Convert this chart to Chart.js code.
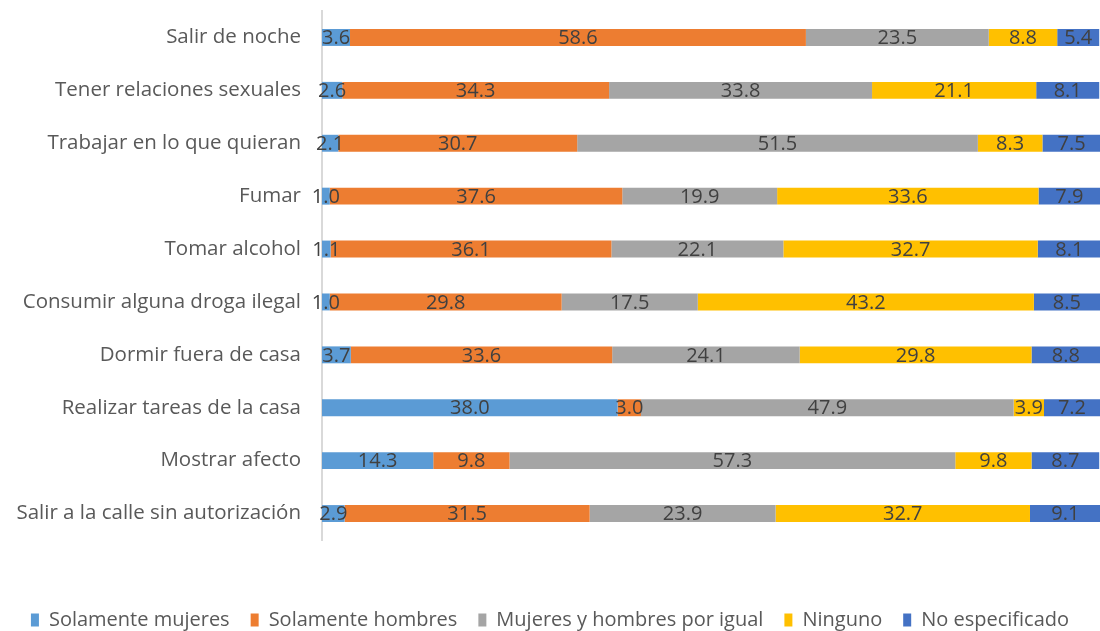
<!DOCTYPE html>
<html>
<head>
<meta charset="utf-8">
<script src="https://cdn.jsdelivr.net/npm/chart.js@4/dist/chart.umd.min.js"></script>
<style>
  html, body { margin: 0; padding: 0; background: #fff; }
  #wrap { width: 1100px; height: 631px; }
</style>
</head>
<body>
<div id="wrap"><canvas id="chart"></canvas></div>
<script>
const categories = [
  "Salir de noche",
  "Tener relaciones sexuales",
  "Trabajar en lo que quieran",
  "Fumar",
  "Tomar alcohol",
  "Consumir alguna droga ilegal",
  "Dormir fuera de casa",
  "Realizar tareas de la casa",
  "Mostrar afecto",
  "Salir a la calle sin autorización",
];
const soloMujeres = [3.6, 2.6, 2.1, 1.0, 1.1, 1.0, 3.7, 38.0, 14.3, 2.9];
const soloHombres = [58.6, 34.3, 30.7, 37.6, 36.1, 29.8, 33.6, 3.0, 9.8, 31.5];
const porIgual = [23.5, 33.8, 51.5, 19.9, 22.1, 17.5, 24.1, 47.9, 57.3, 23.9];
const ninguno = [8.8, 21.1, 8.3, 33.6, 32.7, 43.2, 29.8, 3.9, 9.8, 32.7];
const noEspecificado = [5.4, 8.1, 7.5, 7.9, 8.1, 8.5, 8.8, 7.2, 8.7, 9.1];

const seriesNames = [
  "Solamente mujeres",
  "Solamente hombres",
  "Mujeres y hombres por igual",
  "Ninguno",
  "No especificado",
];
const seriesData = [soloMujeres, soloHombres, porIgual, ninguno, noEspecificado];
const colors = ["#5B9BD5", "#ED7D31", "#A5A5A5", "#FFC000", "#4472C4"];

const fontFamily = "'Open Sans', 'Noto Sans', sans-serif";

// value labels centred in each segment
const valueLabels = {
  id: "valueLabels",
  afterDatasetsDraw(chart) {
    const ctx = chart.ctx;
    ctx.save();
    ctx.font = "20px " + fontFamily;
    ctx.fillStyle = "#404040";
    ctx.textAlign = "center";
    ctx.textBaseline = "middle";
    chart.data.datasets.forEach((ds, i) => {
      const meta = chart.getDatasetMeta(i);
      meta.data.forEach((bar, j) => {
        const v = ds.data[j];
        const x = (bar.x + bar.base) / 2;
        ctx.fillText(v.toFixed(1), x, bar.y + 1);
      });
    });
    ctx.restore();
  },
};

new Chart(document.getElementById("chart"), {
  type: "bar",
  data: {
    labels: categories,
    datasets: seriesData.map((d, i) => ({
      label: seriesNames[i],
      data: d,
      backgroundColor: colors[i],
      borderWidth: 0,
      barPercentage: 0.64,
      categoryPercentage: 0.5,
    })),
  },
  options: {
    indexAxis: "y",
    responsive: true,
    maintainAspectRatio: false,
    animation: false,
    layout: { padding: { top: 11, right: 0, bottom: -9, left: 0 } },
    scales: {
      x: {
        stacked: true,
        min: 0,
        max: 100,
        ticks: { display: false },
        grid: { display: false },
        border: { display: false },
        afterFit: (scale) => {
          scale.height = 49;
        },
      },
      y: {
        stacked: true,
        grid: { display: false },
        border: { color: "#D9D9D9", width: 2 },
        ticks: {
          color: "#595959",
          padding: 13,
          font: { family: fontFamily, size: 20.5 },
        },
        afterFit: (scale) => {
          scale.width = 322;
          scale.paddingTop = 0;
          scale.paddingBottom = 0;
        },
      },
    },
    plugins: {
      legend: {
        position: "bottom",
        labels: {
          color: "#595959",
          boxWidth: 8,
          boxHeight: 13,
          padding: 21,
          font: { family: fontFamily, size: 20 },
        },
      },
      tooltip: { enabled: false },
    },
  },
  plugins: [valueLabels],
});
</script>
</body>
</html>
